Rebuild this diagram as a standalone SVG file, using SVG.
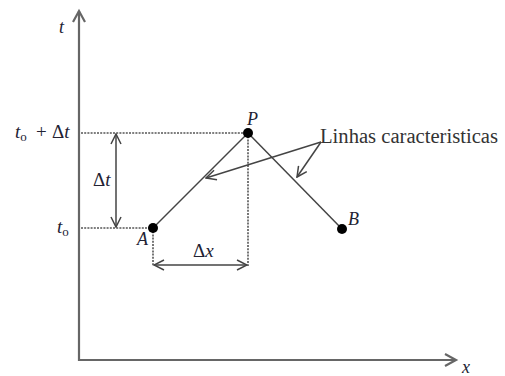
<svg xmlns="http://www.w3.org/2000/svg" width="505" height="376" viewBox="0 0 505 376">
<style>
.axis{stroke:#666;stroke-width:2.2;fill:none}
.ln{stroke:#444;stroke-width:1.5;fill:none}
.dash{stroke:#555;stroke-width:1.6;stroke-dasharray:2,1.2;fill:none}
.lbl{font-family:"Liberation Serif",serif;font-style:italic;font-size:18px;fill:#223}
.up{font-family:"Liberation Serif",serif;font-size:19px;fill:#223}
.cap{font-family:"Liberation Serif",serif;font-size:20px;fill:#333}
.dot{fill:#000}
</style>
<defs>
<marker id="open" viewBox="0 0 12 12" refX="11" refY="6" markerWidth="12" markerHeight="12" markerUnits="userSpaceOnUse" orient="auto-start-reverse">
<path d="M1,1 L11,6 L1,11" fill="none" stroke="#444" stroke-width="1.5"/>
</marker>
</defs>
<g id="axes">
<path class="axis" d="M79,11 L79,360 L456,360"/>
<path class="axis" d="M73,22 L79,11 L85,22"/>
<path class="axis" d="M445,354 L456,360 L445,366"/>
<text class="lbl" x="59" y="33">t</text>
<text class="lbl" x="462" y="373">x</text>
</g>
<g id="guides">
<path class="dash" d="M81,133 L248,133"/>
<path class="dash" d="M81,228 L153,228"/>
<path class="dash" d="M248,133 L248,266"/>
<path class="dash" d="M153,228 L153,266"/>
<text class="up" x="15" y="138"><tspan font-style="italic">t</tspan><tspan font-size="13" dy="3">o</tspan><tspan dy="-3" x="36">+</tspan><tspan x="52">Δ</tspan><tspan font-style="italic">t</tspan></text>
<text class="up" x="57" y="233"><tspan font-style="italic">t</tspan><tspan font-size="13" dy="3">o</tspan></text>
</g>
<g id="connectors">
<line class="ln" x1="153" y1="228" x2="248" y2="133"/>
<line class="ln" x1="248" y1="133" x2="342" y2="229"/>
<line class="ln" x1="116" y1="134" x2="116" y2="227" marker-start="url(#open)" marker-end="url(#open)"/>
<line class="ln" x1="154" y1="265" x2="247" y2="265" marker-start="url(#open)" marker-end="url(#open)"/>
<line class="ln" x1="321" y1="142" x2="206" y2="178" marker-end="url(#open)"/>
<line class="ln" x1="321" y1="142" x2="297" y2="177" marker-end="url(#open)"/>
</g>
<g id="dimlabels">
<text class="up" x="93" y="186" font-size="20">Δ<tspan font-style="italic">t</tspan></text>
<text class="up" x="193" y="257" font-size="20">Δ<tspan font-style="italic">x</tspan></text>
</g>
<g id="node-A">
<circle class="dot" cx="153" cy="228" r="5"/>
<text class="lbl" x="137" y="245">A</text>
</g>
<g id="node-P">
<circle class="dot" cx="248" cy="133" r="5"/>
<text class="lbl" x="247" y="125">P</text>
</g>
<g id="node-B">
<circle class="dot" cx="342" cy="229" r="5"/>
<text class="lbl" x="348" y="225">B</text>
</g>
<g id="label-characteristics">
<text class="cap" x="320" y="143" textLength="178" lengthAdjust="spacingAndGlyphs">Linhas caracteristicas</text>
</g>
</svg>
